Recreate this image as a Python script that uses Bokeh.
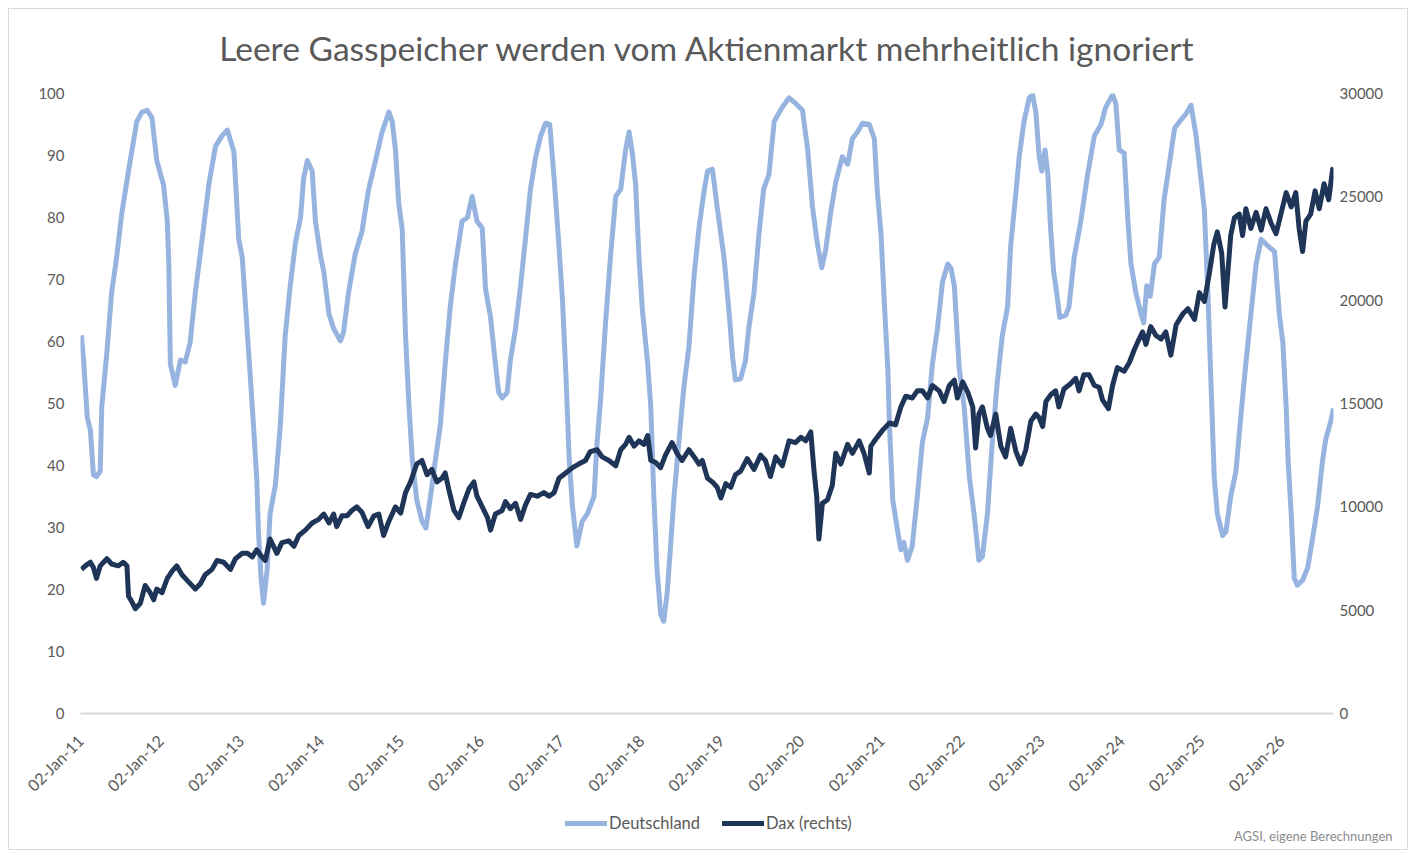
import pandas as pd
from bokeh.plotting import figure
from bokeh.layouts import column
from bokeh.models import (LinearAxis, Range1d, FixedTicker, DatetimeTickFormatter,
                          Legend, LegendItem, Label)
from bokeh.embed import file_html
from bokeh.resources import INLINE
import math

# ---------------- data ----------------
gas_dates = [
    "2011-01-06", "2011-01-16", "2011-02-02", "2011-02-16", "2011-03-02", "2011-03-16", "2011-04-02", "2011-04-09",
    "2011-05-02", "2011-05-24", "2011-06-16", "2011-07-09", "2011-08-09", "2011-09-16", "2011-10-09", "2011-11-02",
    "2011-11-24", "2011-12-16", "2012-01-16", "2012-02-02", "2012-02-09", "2012-02-16", "2012-03-09", "2012-04-02",
    "2012-04-24", "2012-05-16", "2012-06-09", "2012-07-16", "2012-08-09", "2012-09-09", "2012-10-09", "2012-11-02",
    "2012-12-02", "2012-12-24", "2013-01-09", "2013-02-02", "2013-02-24", "2013-03-16", "2013-03-24", "2013-04-05",
    "2013-04-16", "2013-05-02", "2013-05-16", "2013-06-09", "2013-07-02", "2013-07-24", "2013-08-16", "2013-09-09",
    "2013-10-02", "2013-10-16", "2013-11-02", "2013-11-24", "2013-12-09", "2014-01-02", "2014-01-16", "2014-02-09",
    "2014-03-02", "2014-04-02", "2014-04-16", "2014-05-09", "2014-06-09", "2014-07-09", "2014-08-09", "2014-09-09",
    "2014-10-09", "2014-11-09", "2014-11-24", "2014-12-09", "2014-12-24", "2015-01-09", "2015-01-24", "2015-02-09",
    "2015-02-24", "2015-03-16", "2015-04-09", "2015-04-27", "2015-05-16", "2015-06-09", "2015-07-02", "2015-07-24",
    "2015-08-16", "2015-09-09", "2015-10-09", "2015-11-02", "2015-11-24", "2015-12-16", "2016-01-09", "2016-01-24",
    "2016-02-16", "2016-03-09", "2016-03-24", "2016-04-09", "2016-05-02", "2016-05-16", "2016-06-09", "2016-07-02",
    "2016-07-24", "2016-08-16", "2016-09-09", "2016-10-02", "2016-10-24", "2016-11-12", "2016-12-02", "2016-12-24",
    "2017-01-09", "2017-01-24", "2017-02-09", "2017-02-24", "2017-03-16", "2017-04-09", "2017-05-02", "2017-06-02",
    "2017-06-16", "2017-07-02", "2017-07-24", "2017-08-16", "2017-09-09", "2017-10-02", "2017-10-24", "2017-11-09",
    "2017-11-24", "2017-12-09", "2017-12-24", "2018-01-09", "2018-02-02", "2018-02-16", "2018-03-02", "2018-03-16",
    "2018-04-02", "2018-04-16", "2018-05-02", "2018-05-16", "2018-06-02", "2018-06-24", "2018-07-16", "2018-08-09",
    "2018-09-02", "2018-09-24", "2018-10-16", "2018-11-02", "2018-11-24", "2018-12-16", "2019-01-09", "2019-01-16",
    "2019-02-09", "2019-02-24", "2019-03-09", "2019-04-02", "2019-04-24", "2019-05-09", "2019-06-02", "2019-06-24",
    "2019-07-16", "2019-08-09", "2019-09-02", "2019-10-09", "2019-11-09", "2019-12-09", "2020-01-09", "2020-02-02",
    "2020-02-24", "2020-03-16", "2020-04-06", "2020-04-24", "2020-05-16", "2020-06-09", "2020-07-09", "2020-08-02",
    "2020-08-24", "2020-09-16", "2020-10-09", "2020-11-09", "2020-12-02", "2020-12-16", "2021-01-02", "2021-01-16",
    "2021-02-02", "2021-02-09", "2021-02-24", "2021-03-16", "2021-04-02", "2021-04-16", "2021-05-02", "2021-05-24",
    "2021-06-16", "2021-07-09", "2021-08-02", "2021-08-24", "2021-09-16", "2021-10-09", "2021-11-02", "2021-11-16",
    "2021-12-02", "2021-12-24", "2022-01-16", "2022-02-09", "2022-03-02", "2022-03-24", "2022-04-09", "2022-05-02",
    "2022-05-24", "2022-06-16", "2022-07-09", "2022-08-02", "2022-08-16", "2022-09-09", "2022-09-24", "2022-10-16",
    "2022-11-09", "2022-11-24", "2022-12-09", "2022-12-24", "2023-01-05", "2023-01-20", "2023-02-02", "2023-02-14",
    "2023-02-28", "2023-03-14", "2023-03-28", "2023-04-24", "2023-05-09", "2023-06-02", "2023-07-02", "2023-08-02",
    "2023-09-02", "2023-10-02", "2023-10-24", "2023-11-24", "2023-12-09", "2023-12-24", "2024-01-16", "2024-02-02",
    "2024-02-16", "2024-03-09", "2024-04-02", "2024-04-14", "2024-04-28", "2024-05-14", "2024-06-02", "2024-06-24",
    "2024-07-16", "2024-08-09", "2024-09-02", "2024-10-02", "2024-10-24", "2024-11-16", "2024-12-09", "2025-01-02",
    "2025-01-16", "2025-02-02", "2025-02-16", "2025-03-02", "2025-03-16", "2025-04-09", "2025-04-24", "2025-05-16",
    "2025-06-09", "2025-07-02", "2025-07-24", "2025-08-16", "2025-09-09", "2025-10-02", "2025-11-02", "2025-12-02",
    "2025-12-24", "2026-01-09", "2026-01-24", "2026-02-02", "2026-02-16", "2026-03-02", "2026-03-16", "2026-04-09",
    "2026-05-02", "2026-05-24", "2026-06-16", "2026-07-09", "2026-07-24", "2026-08-16", "2026-08-28",
]
gas_values = [
    61.0, 57.0, 47.7, 45.7, 38.5, 38.2, 39.1, 49.4,
    58.1, 67.9, 73.6, 80.6, 87.5, 95.5, 97.0, 97.3,
    96.1, 89.2, 85.2, 79.4, 72.5, 56.4, 52.9, 57.0,
    56.7, 59.8, 67.9, 78.2, 85.2, 91.5, 93.2, 94.1,
    90.6, 76.5, 73.6, 61.0, 49.4, 38.0, 29.3, 21.8,
    17.8, 23.0, 32.2, 36.8, 46.6, 61.0, 69.0, 76.0,
    80.0, 86.3, 89.2, 87.5, 79.4, 73.6, 71.3, 64.4,
    62.1, 60.1, 61.5, 67.9, 74.2, 77.7, 84.6, 89.2,
    93.8, 97.0, 95.5, 91.0, 82.3, 78.0, 61.0, 49.4,
    40.8, 34.5, 31.0, 29.9, 34.5, 40.8, 46.6, 56.4,
    65.6, 72.5, 79.4, 80.0, 83.4, 79.4, 78.3, 68.5,
    63.9, 56.4, 51.8, 50.9, 51.8, 56.9, 62.1, 69.0,
    76.5, 84.6, 89.8, 93.2, 95.2, 95.0, 86.3, 75.4,
    66.7, 55.2, 40.8, 33.3, 27.0, 31.0, 32.2, 35.0,
    43.7, 50.6, 62.7, 73.6, 83.4, 84.6, 90.9, 93.8,
    90.4, 85.2, 73.6, 65.0, 56.4, 49.4, 35.0, 23.5,
    16.0, 14.9, 19.5, 26.4, 35.0, 43.7, 52.3, 59.2,
    70.8, 78.3, 84.0, 87.5, 87.8, 81.7, 75.4, 73.6,
    64.4, 57.5, 53.8, 54.0, 56.9, 62.1, 67.9, 77.1,
    84.6, 86.9, 95.5, 97.8, 99.3, 98.4, 97.3, 90.9,
    81.7, 76.0, 71.9, 74.8, 80.6, 85.7, 89.8, 88.6,
    92.7, 93.8, 95.2, 95.0, 92.7, 84.0, 77.1, 66.7,
    55.2, 46.6, 34.5, 29.9, 26.4, 27.6, 24.7, 27.0,
    35.0, 43.7, 47.7, 56.4, 62.1, 69.6, 72.5, 71.9,
    69.0, 55.8, 49.4, 38.0, 32.2, 24.7, 25.3, 32.2,
    43.7, 53.5, 61.0, 65.6, 75.4, 84.0, 89.8, 95.5,
    99.3, 99.8, 97.0, 89.8, 87.5, 90.9, 86.9, 78.3,
    71.3, 67.9, 63.9, 64.2, 65.6, 73.6, 79.4, 86.9,
    93.2, 95.0, 97.8, 99.8, 98.4, 90.9, 90.4, 79.4,
    72.5, 67.9, 64.4, 63.0, 69.0, 67.3, 72.5, 73.6,
    82.9, 88.6, 94.4, 95.8, 96.7, 98.1, 93.2, 85.7,
    81.1, 66.7, 52.3, 38.0, 32.2, 28.7, 29.3, 35.0,
    39.1, 48.3, 56.4, 64.4, 72.5, 76.5, 75.4, 74.5,
    64.4, 59.8, 49.4, 40.8, 32.2, 21.8, 20.7, 21.5,
    23.5, 28.1, 33.3, 40.8, 44.3, 47.2, 49.2,
]

dax_dates = [
    "2011-01-06", "2011-01-24", "2011-02-16", "2011-03-02", "2011-03-16", "2011-04-02", "2011-05-02", "2011-05-24",
    "2011-06-24", "2011-07-16", "2011-08-02", "2011-08-09", "2011-08-24", "2011-09-09", "2011-10-02", "2011-10-24",
    "2011-11-16", "2011-12-02", "2011-12-16", "2012-01-09", "2012-02-02", "2012-02-24", "2012-03-16", "2012-04-09",
    "2012-05-09", "2012-06-09", "2012-07-02", "2012-07-24", "2012-08-24", "2012-09-16", "2012-10-16", "2012-11-16",
    "2012-12-09", "2013-01-09", "2013-02-02", "2013-02-24", "2013-03-16", "2013-04-09", "2013-04-24", "2013-05-16",
    "2013-06-16", "2013-07-09", "2013-08-09", "2013-09-02", "2013-09-24", "2013-10-24", "2013-11-24", "2013-12-24",
    "2014-01-16", "2014-02-09", "2014-03-02", "2014-03-16", "2014-04-09", "2014-05-02", "2014-05-24", "2014-06-16",
    "2014-07-09", "2014-08-06", "2014-09-02", "2014-09-24", "2014-10-16", "2014-11-09", "2014-12-09", "2015-01-02",
    "2015-01-24", "2015-02-16", "2015-03-16", "2015-04-09", "2015-05-02", "2015-05-24", "2015-06-16", "2015-07-09",
    "2015-07-24", "2015-08-09", "2015-09-02", "2015-09-24", "2015-10-16", "2015-11-09", "2015-12-02", "2015-12-16",
    "2016-01-09", "2016-02-02", "2016-02-16", "2016-03-09", "2016-04-09", "2016-04-24", "2016-05-16", "2016-06-09",
    "2016-07-02", "2016-07-24", "2016-08-16", "2016-09-16", "2016-10-16", "2016-11-09", "2016-12-02", "2016-12-24",
    "2017-01-24", "2017-02-24", "2017-03-24", "2017-04-24", "2017-05-16", "2017-06-16", "2017-07-09", "2017-08-09",
    "2017-09-09", "2017-10-02", "2017-10-24", "2017-11-09", "2017-12-02", "2017-12-24", "2018-01-16", "2018-02-02",
    "2018-02-16", "2018-03-09", "2018-04-02", "2018-04-24", "2018-05-24", "2018-06-16", "2018-07-09", "2018-08-09",
    "2018-09-02", "2018-09-24", "2018-10-09", "2018-11-02", "2018-11-24", "2018-12-16", "2019-01-02", "2019-01-24",
    "2019-02-16", "2019-03-09", "2019-04-02", "2019-05-02", "2019-06-02", "2019-07-02", "2019-07-24", "2019-08-16",
    "2019-09-09", "2019-10-09", "2019-11-09", "2019-12-09", "2020-01-02", "2020-01-24", "2020-02-16", "2020-03-02",
    "2020-03-14", "2020-03-24", "2020-04-09", "2020-05-02", "2020-05-24", "2020-06-09", "2020-07-02", "2020-08-02",
    "2020-08-24", "2020-09-24", "2020-10-16", "2020-11-09", "2020-11-16", "2020-12-09", "2021-01-09", "2021-02-09",
    "2021-03-09", "2021-04-02", "2021-04-24", "2021-05-24", "2021-06-16", "2021-07-09", "2021-08-02", "2021-08-24",
    "2021-09-24", "2021-10-16", "2021-11-09", "2021-12-02", "2021-12-16", "2022-01-09", "2022-02-02", "2022-02-24",
    "2022-03-09", "2022-03-24", "2022-04-09", "2022-05-02", "2022-05-16", "2022-06-09", "2022-07-02", "2022-07-24",
    "2022-08-16", "2022-09-09", "2022-10-02", "2022-10-24", "2022-11-16", "2022-12-09", "2022-12-24", "2023-01-09",
    "2023-01-24", "2023-02-16", "2023-03-09", "2023-03-24", "2023-04-16", "2023-05-16", "2023-06-09", "2023-06-24",
    "2023-07-16", "2023-08-09", "2023-09-02", "2023-09-24", "2023-10-09", "2023-11-05", "2023-11-24", "2023-12-16",
    "2024-01-16", "2024-02-09", "2024-03-02", "2024-03-24", "2024-04-09", "2024-04-24", "2024-05-16", "2024-06-09",
    "2024-07-02", "2024-07-24", "2024-08-16", "2024-09-09", "2024-10-09", "2024-11-02", "2024-12-02", "2024-12-24",
    "2025-01-16", "2025-02-09", "2025-02-28", "2025-03-16", "2025-04-05", "2025-04-20", "2025-05-02", "2025-05-16",
    "2025-06-02", "2025-06-24", "2025-07-09", "2025-07-24", "2025-08-16", "2025-09-09", "2025-10-02", "2025-10-24",
    "2025-11-16", "2025-12-09", "2026-01-02", "2026-01-24", "2026-02-16", "2026-03-09", "2026-03-24", "2026-04-09",
    "2026-04-24", "2026-05-16", "2026-06-05", "2026-06-24", "2026-07-16", "2026-08-06", "2026-08-24", "2026-08-28",
]
dax_values = [
    6973, 7145, 7318, 7059, 6540, 7145, 7491, 7232,
    7145, 7318, 7145, 5676, 5417, 5072, 5331, 6195,
    5849, 5503, 6022, 5849, 6540, 6886, 7145, 6713,
    6368, 6022, 6281, 6713, 6973, 7405, 7318, 6973,
    7491, 7750, 7750, 7577, 7923, 7577, 7405, 8441,
    7750, 8269, 8355, 8096, 8614, 8873, 9219, 9392,
    9651, 9219, 9651, 9046, 9565, 9565, 9824, 9996,
    9737, 9046, 9565, 9651, 8614, 9305, 9996, 9700,
    10687, 11206, 12070, 12243, 11552, 11811, 11206, 11379,
    11638, 10860, 9824, 9478, 10169, 10860, 11206, 10515,
    9996, 9478, 8873, 9651, 9824, 10256, 9910, 10169,
    9392, 10083, 10601, 10515, 10687, 10515, 10687, 11379,
    11638, 11897, 12070, 12243, 12675, 12762, 12416, 12243,
    11984, 12762, 13021, 13366, 12935, 13193, 13021, 13453,
    12243, 12157, 11897, 12502, 13107, 12589, 12243, 12762,
    12416, 12070, 12243, 11379, 11206, 10946, 10428, 11120,
    10946, 11552, 11725, 12329, 11811, 12502, 12243, 11465,
    12416, 11984, 13193, 13107, 13366, 13193, 13625, 11725,
    10515, 8441, 10169, 10342, 11033, 12589, 12070, 13021,
    12589, 13193, 12589, 11638, 12935, 13280, 13712, 14057,
    13971, 14835, 15353, 15267, 15612, 15612, 15267, 15872,
    15612, 15094, 15872, 16131, 15267, 16044, 15526, 14835,
    12848, 14489, 14835, 13798, 13453, 14489, 12935, 12416,
    13798, 12675, 12070, 12762, 14144, 14489, 14316, 13885,
    15094, 15440, 15612, 14835, 15699, 15958, 16217, 15612,
    16390, 16390, 15872, 15785, 15180, 14748, 15872, 16735,
    16563, 16995, 17600, 18118, 18464, 17859, 18723, 18291,
    18118, 18464, 17341, 18809, 19327, 19587, 19069, 20365,
    19933, 21401, 22697, 23302, 22265, 19673, 21228, 23129,
    23993, 24166, 23129, 24425, 23475, 24252, 23388, 24425,
    23734, 23216, 24252, 25203, 24512, 25203, 23475, 22352,
    23821, 24166, 25290, 24425, 25635, 24857, 26326, 26413,
]

x_tick_dates = ["2011-01-02", "2012-01-02", "2013-01-02", "2014-01-02", "2015-01-02", "2016-01-02",
                "2017-01-02", "2018-01-02", "2019-01-02", "2020-01-02", "2021-01-02", "2022-01-02",
                "2023-01-02", "2024-01-02", "2025-01-02", "2026-01-02"]
left_ticks = [0, 10, 20, 30, 40, 50, 60, 70, 80, 90, 100]
right_ticks = [0, 5000, 10000, 15000, 20000, 25000, 30000]

title_text = "Leere Gasspeicher werden vom Aktienmarkt mehrheitlich ignoriert"
series_names = ["Deutschland", "Dax (rechts)"]
source_text = "AGSI, eigene Berechnungen"

# ---------------- styling ----------------
FONT = "Lato"
TXT = "#595959"
GAS_COLOR = "#97b4e0"
DAX_COLOR = "#1f3558"
LW = 5

gas_x = pd.to_datetime(gas_dates)
dax_x = pd.to_datetime(dax_dates)
tick_ms = [int(t.value // 10**6) for t in pd.to_datetime(x_tick_dates)]

W = 1398
H_HEAD = 72
H_MAIN = 727
H_LEG = 41


def unalign(fig):
    try:
        fig.frame_align = False
    except Exception:
        pass


def strip(height):
    f = figure(width=W, height=height, output_backend="svg", toolbar_location=None,
               title=None, x_range=Range1d(0, W), y_range=Range1d(height, 0),
               x_axis_location=None, y_axis_location=None,
               min_border=0, min_border_left=0, min_border_right=0,
               min_border_top=0, min_border_bottom=0)
    f.grid.visible = False
    f.outline_line_color = None
    f.background_fill_color = "white"
    f.border_fill_color = "white"
    unalign(f)
    return f


# ---- header with the chart title ----
h = strip(H_HEAD)
h.add_layout(Label(x=698.5, y=38, text=title_text, text_align="center", text_baseline="middle",
                   text_font=FONT, text_font_size="33.6px", text_color=TXT))

# ---- main chart ----
p = figure(width=W, height=H_MAIN, x_axis_type="datetime", title=None,
           output_backend="svg", toolbar_location=None,
           x_range=Range1d(pd.Timestamp(x_tick_dates[0]), dax_x[-1]),
           y_range=Range1d(left_ticks[0], left_ticks[-1]),
           min_border_left=71, min_border_right=74, min_border_top=12, min_border_bottom=95)

p.grid.visible = False
p.outline_line_color = None
p.background_fill_color = "white"
p.border_fill_color = "white"

p.extra_y_ranges = {"dax": Range1d(right_ticks[0], right_ticks[-1])}
p.add_layout(LinearAxis(y_range_name="dax"), "right")

for ax in p.yaxis:
    ax.axis_line_color = None
    ax.major_tick_line_color = None
    ax.minor_tick_line_color = None
    ax.major_tick_out = 0
    ax.major_tick_in = 0
    ax.major_label_text_font = FONT
    ax.major_label_text_font_size = "15px"
    ax.major_label_text_color = TXT
p.yaxis[0].ticker = FixedTicker(ticks=left_ticks)
p.yaxis[0].major_label_standoff = 16
p.yaxis[1].ticker = FixedTicker(ticks=right_ticks)
p.yaxis[1].major_label_standoff = 6

xa = p.xaxis[0]
xa.ticker = FixedTicker(ticks=tick_ms)
fmt = "%d-%b-%y"
xa.formatter = DatetimeTickFormatter(years=fmt, months=fmt, days=fmt, hours=fmt,
                                     minutes=fmt, seconds=fmt, milliseconds=fmt,
                                     microseconds=fmt, minsec=fmt, hourmin=fmt)
xa.major_label_orientation = math.pi / 4
xa.axis_line_color = "#d9d9d9"
xa.axis_line_width = 2
xa.major_tick_line_color = None
xa.minor_tick_line_color = None
xa.major_tick_out = 0
xa.major_tick_in = 0
xa.major_label_text_font = FONT
xa.major_label_text_font_size = "16px"
xa.major_label_text_color = TXT
xa.major_label_standoff = 24

p.line(gas_x, gas_values, line_width=LW, line_color=GAS_COLOR, line_join="round")
p.line(dax_x, dax_values, line_width=LW, line_color=DAX_COLOR, line_join="round",
       y_range_name="dax")

# ---- legend / source strip below the chart ----
q = strip(H_LEG)
# the same series again (outside this strip's visible range) so the legend can show their swatches
k_gas = q.line(gas_x, gas_values, line_width=5, line_color=GAS_COLOR, line_cap="round")
k_dax = q.line(dax_x, dax_values, line_width=5, line_color=DAX_COLOR, line_cap="round")
legend = Legend(items=[LegendItem(label=series_names[0], renderers=[k_gas]),
                       LegendItem(label=series_names[1], renderers=[k_dax])],
                orientation="horizontal", location=(556, 16),
                border_line_color=None, background_fill_alpha=0,
                label_text_font=FONT, label_text_font_size="16.5px", label_text_color=TXT,
                glyph_width=42, glyph_height=14, label_standoff=2, spacing=22,
                margin=0, padding=4)
q.add_layout(legend, "center")
q.add_layout(Label(x=1383, y=27, text=source_text, text_align="right", text_baseline="middle",
                   text_font=FONT, text_font_size="13px", text_color="#8c8c8c"))

layout = column(h, p, q, spacing=0,
                styles={"margin": "8px 0 0 8px", "border": "1px solid #d9d9d9"})

open("out.html", "w").write(file_html(layout, INLINE))
